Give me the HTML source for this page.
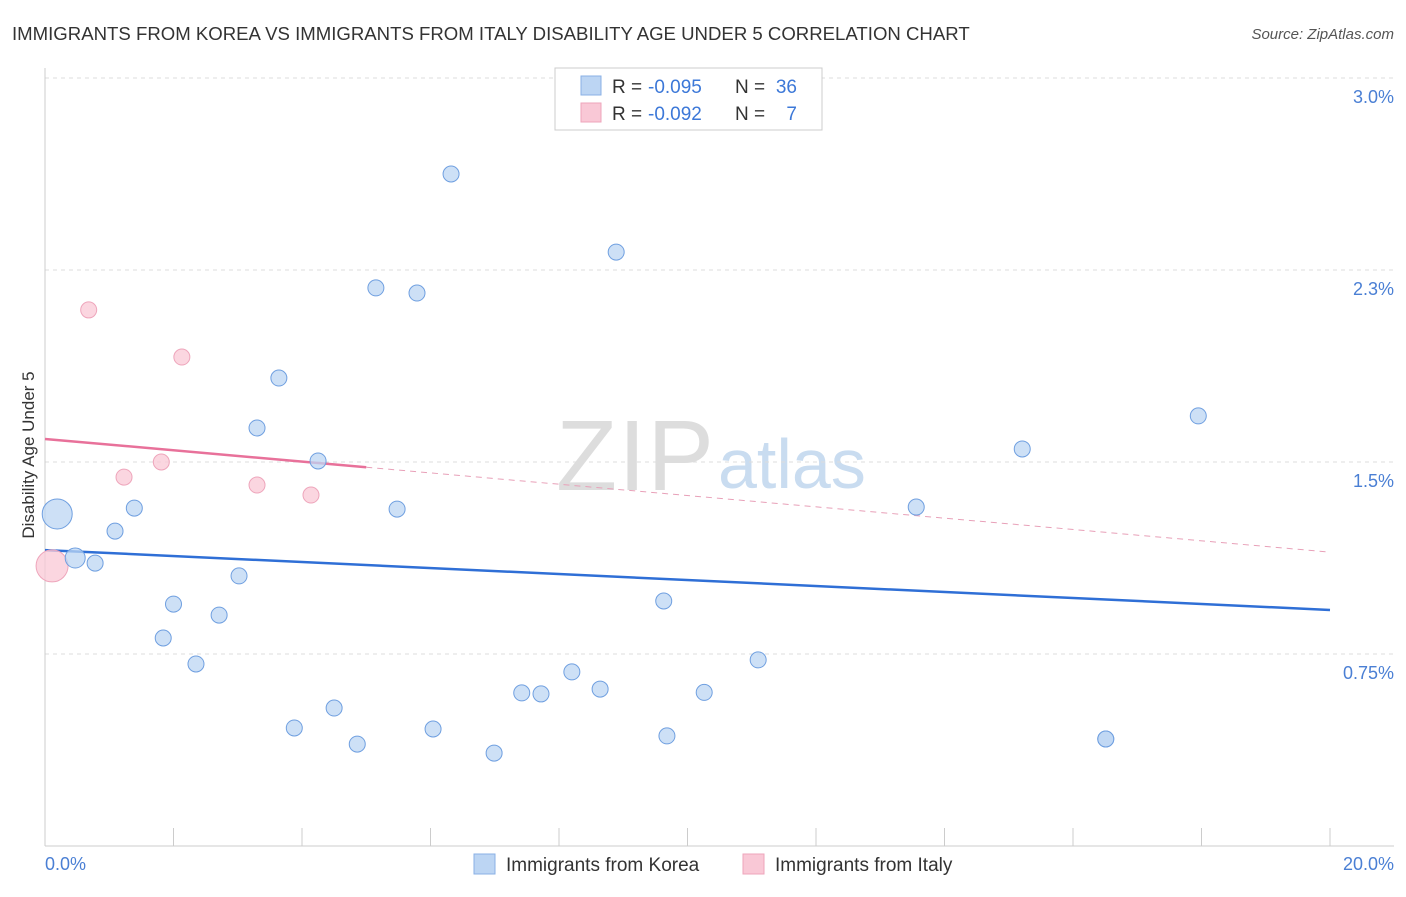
<!DOCTYPE html>
<html><head><meta charset="utf-8"><style>
body{margin:0;background:#fff;font-family:"Liberation Sans",sans-serif}
svg text{font-family:"Liberation Sans",sans-serif}
</style></head><body>
<svg width="1406" height="892">
<text x="12" y="40" font-size="18.6" fill="#333">IMMIGRANTS FROM KOREA VS IMMIGRANTS FROM ITALY DISABILITY AGE UNDER 5 CORRELATION CHART</text>
<text x="1394" y="39" font-size="15" fill="#555" font-style="italic" text-anchor="end">Source: ZipAtlas.com</text>
<text x="714" y="490" font-size="100" fill="#ddd" font-family="Liberation Serif" text-anchor="end" textLength="158">ZIP</text>
<text x="718" y="488" font-size="70" fill="#c9dcf0">atlas</text>
<g id="grid"></g><g id="axes"></g><g id="trend"></g><g id="pts"></g>
<text transform="translate(34,455) rotate(-90)" font-size="17" fill="#333" text-anchor="middle">Disability Age Under 5</text>
<text x="45" y="870" font-size="18" fill="#4a7fd4">0.0%</text>
<text x="1394" y="870" font-size="18" fill="#4a7fd4" text-anchor="end">20.0%</text>
<g>
<rect x="555" y="68" width="267" height="62" fill="#fff" stroke="#ccc"/>
<rect x="581" y="76" width="20" height="19" fill="#bcd5f3" stroke="#8ab0e6"/>
<rect x="581" y="103" width="20" height="19" fill="#f9c8d6" stroke="#eea5bb"/>
<text x="612" y="93" font-size="19" fill="#333">R =</text>
<text x="648" y="93" font-size="19" fill="#3c78d8">-0.095</text>
<text x="735" y="93" font-size="19" fill="#333">N =</text>
<text x="797" y="93" font-size="19" fill="#3c78d8" text-anchor="end">36</text>
<text x="612" y="120" font-size="19" fill="#333">R =</text>
<text x="648" y="120" font-size="19" fill="#3c78d8">-0.092</text>
<text x="735" y="120" font-size="19" fill="#333">N =</text>
<text x="797" y="120" font-size="19" fill="#3c78d8" text-anchor="end">7</text>
</g>
<g>
<rect x="474" y="854" width="21" height="20" fill="#bcd5f3" stroke="#8ab0e6"/>
<text x="506" y="871" font-size="19" fill="#333">Immigrants from Korea</text>
<rect x="743" y="854" width="21" height="20" fill="#f9c8d6" stroke="#eea5bb"/>
<text x="775" y="871" font-size="19" fill="#333">Immigrants from Italy</text>
</g>
</svg>
<script>
const yTicks=[0.75,1.5,2.25,3.0];
const yTickLabels=["0.75%","1.5%","2.3%","3.0%"];
const koreaX=[0.19,0.47,0.78,1.09,1.39,1.84,2.0,2.35,2.71,3.02,3.30,3.64,3.88,4.25,4.50,4.86,5.15,5.48,5.79,6.04,6.32,6.99,7.42,7.72,8.20,8.64,8.89,9.63,9.68,10.26,11.10,13.56,15.21,16.51,16.51,17.95];
const koreaY=[1.297,1.125,1.105,1.23,1.32,0.8125,0.945,0.711,0.902,1.055,1.633,1.828,0.461,1.504,0.539,0.398,2.18,1.316,2.16,0.457,2.625,0.363,0.598,0.594,0.68,0.613,2.32,0.957,0.43,0.60,0.727,1.324,1.551,0.418,0.418,1.68];
const koreaR=[15,10,8,8,8,8,8,8,8,8,8,8,8,8,8,8,8,8,8,8,8,8,8,8,8,8,8,8,8,8,8,8,8,8,8,8];
const italyX=[0.11,0.68,1.23,1.81,2.13,3.30,4.14];
const italyY=[1.094,2.094,1.441,1.5,1.91,1.41,1.371];
const italyR=[16,8,8,8,8,8,8];
const koreaTrend=[1.156,0.922];
const italyTrend=[1.59,1.148];
const X=v=>45+v/20*1285, Y=v=>846-v/0.75*192;
const NS="http://www.w3.org/2000/svg";
function mk(p,t,a){const e=document.createElementNS(NS,t);for(const k in a)e.setAttribute(k,a[k]);document.getElementById(p).appendChild(e);return e;}
yTicks.forEach((t,i)=>{
 const l=mk('grid','line',{x1:45,x2:1394,y1:Y(t),y2:Y(t),stroke:'#ddd','stroke-dasharray':'4,4'});
 
 
 const tx=mk('grid','text',{x:1394,y:Y(t)+25,'font-size':18,fill:'#4a7fd4','text-anchor':'end'});
 tx.textContent=yTickLabels[i];
 
 
});
const ya=mk('axes','line',{x1:45,x2:45,y1:68,y2:846,stroke:'#ccc'});


const xa=mk('axes','line',{x1:45,x2:1394,y1:846,y2:846,stroke:'#ccc'});


for(let i=1;i<=10;i++){const t=mk('axes','line',{x1:X(i*2),x2:X(i*2),y1:828,y2:846,stroke:'#ccc'});
 
 }
const kt=mk('trend','line',{x1:X(0),y1:Y(koreaTrend[0]),x2:X(20),y2:Y(koreaTrend[1]),stroke:'#2f6fd6','stroke-width':2.5});


const iy=x=>italyTrend[0]+(italyTrend[1]-italyTrend[0])*x/20;
const it1=mk('trend','line',{x1:X(0),y1:Y(iy(0)),x2:X(5),y2:Y(iy(5)),stroke:'#e8719a','stroke-width':2.5});


const it2=mk('trend','line',{x1:X(5),y1:Y(iy(5)),x2:X(20),y2:Y(iy(20)),stroke:'#e8a0b8','stroke-width':1,'stroke-dasharray':'6,5'});


italyX.forEach((x,i)=>{const c=mk('pts','circle',{cx:X(x),cy:Y(italyY[i]),r:italyR[i],fill:'#f9c8d6','fill-opacity':0.75,stroke:'#eea5bb'});
 
 });
koreaX.forEach((x,i)=>{const c=mk('pts','circle',{cx:X(x),cy:Y(koreaY[i]),r:koreaR[i],fill:'#bcd5f3','fill-opacity':0.75,stroke:'#6f9fe0'});
 
 });
</script>
</body></html>
